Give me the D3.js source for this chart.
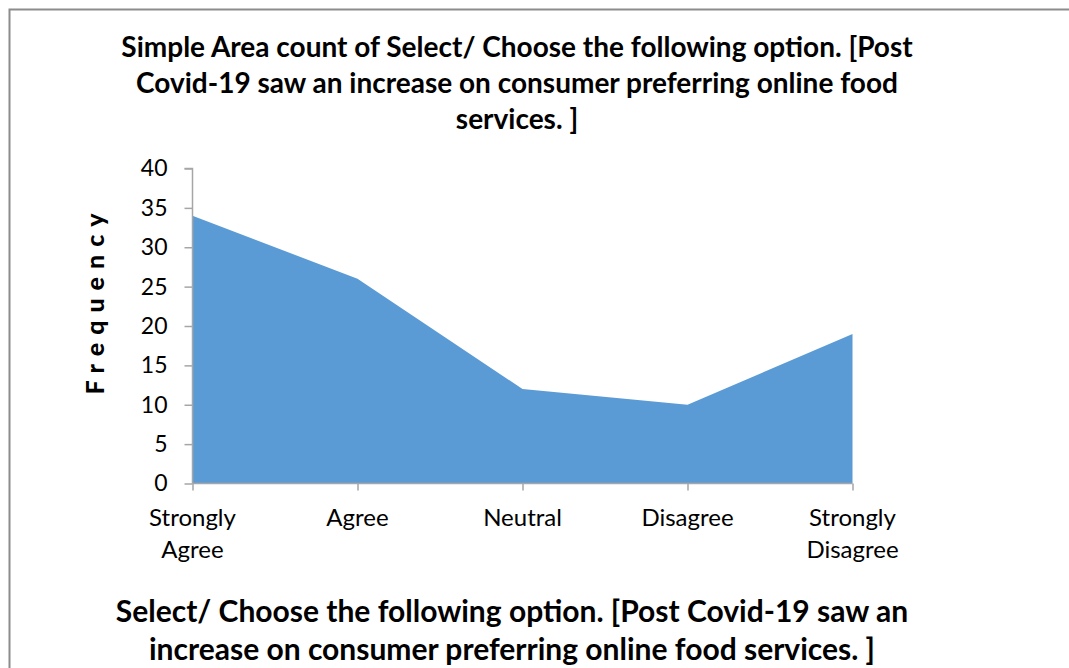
<!DOCTYPE html>
<html>
<head>
<meta charset="utf-8">
<script src="https://cdn.jsdelivr.net/npm/d3@7"></script>
<style>
  html, body { margin: 0; padding: 0; background: #fff; }
  svg { display: block; }
  text { font-family: Lato, "Open Sans", sans-serif; fill: #000; }
</style>
</head>
<body>
<svg id="chart" width="1069" height="668"></svg>
<script>
// Response categories and their counts
const categories = ["Strongly Agree", "Agree", "Neutral", "Disagree", "Strongly Disagree"];
const categoryLines = [["Strongly", "Agree"], ["Agree"], ["Neutral"], ["Disagree"], ["Strongly", "Disagree"]];
const counts = [34, 26, 12, 10, 19];
const yTicks = [0, 5, 10, 15, 20, 25, 30, 35, 40];

const titleLines = [
  "Simple Area count of Select/ Choose the following option. [Post",
  "Covid-19 saw an increase on consumer preferring online food",
  "services. ]"
];
const xTitleLines = [
  "Select/ Choose the following option. [Post Covid-19 saw an",
  "increase on consumer preferring online food services. ]"
];
const yTitle = "Frequency";

const svg = d3.select("#chart");

// Outer frame
svg.append("rect")
  .attr("x", 9.5).attr("y", 9.5)
  .attr("width", 1100).attr("height", 700)
  .attr("fill", "none").attr("stroke", "#8c8c8c").attr("stroke-width", 2);

const x = d3.scalePoint().domain(categories).range([192.5, 852.5]);
const y = d3.scaleLinear().domain([0, 40]).range([483.5, 168.5]);

// Area series
const area = d3.area()
  .x((d, i) => x(categories[i]))
  .y0(y(0))
  .y1(d => y(d));
svg.append("path")
  .datum(counts)
  .attr("d", area)
  .attr("fill", "#5b9bd5");

// Y axis
const yAxis = svg.append("g")
  .attr("transform", `translate(${192.5},0)`)
  .call(d3.axisLeft(y).tickValues(yTicks).tickSize(8).tickPadding(17));
yAxis.select(".domain").attr("stroke", "#a6a6a6").attr("stroke-width", 1.5)
  .attr("d", `M-8,${y(40)}H0V${y(0)}`);
yAxis.selectAll(".tick line").attr("stroke", "#a6a6a6").attr("stroke-width", 1.5);
yAxis.selectAll(".tick text")
  .style("font-family", "Lato, 'Open Sans', sans-serif")
  .style("font-size", "23px").attr("fill", "#000");

// X axis
const xAxis = svg.append("g")
  .attr("transform", `translate(0,${y(0)})`)
  .call(d3.axisBottom(x).tickSize(7).tickFormat(""));
xAxis.select(".domain").attr("stroke", "#a6a6a6").attr("stroke-width", 1.5)
  .attr("d", `M${x(categories[0])},0H${x(categories[4])}`);
xAxis.selectAll(".tick line").attr("stroke", "#a6a6a6").attr("stroke-width", 1.5);

categories.forEach((c, i) => {
  const t = svg.append("text")
    .attr("x", x(c)).attr("y", 526)
    .attr("text-anchor", "middle")
    .style("font-size", "24px");
  categoryLines[i].forEach((ln, j) => {
    t.append("tspan").attr("x", x(c)).attr("dy", j === 0 ? 0 : 32).text(ln);
  });
});

// Chart title
titleLines.forEach((ln, i) => {
  svg.append("text")
    .attr("x", 517).attr("y", 57 + i * 36)
    .attr("text-anchor", "middle")
    .style("font-size", "28px").style("font-weight", "bold")
    .text(ln);
});

// Category axis title
xTitleLines.forEach((ln, i) => {
  svg.append("text")
    .attr("x", 512).attr("y", 622 + i * 38)
    .attr("text-anchor", "middle")
    .style("font-size", "30px").style("font-weight", "bold")
    .text(ln);
});

// Value axis title
svg.append("text")
  .attr("transform", "translate(104,300) rotate(-90)")
  .attr("text-anchor", "middle")
  .style("font-size", "25px").style("font-weight", "900")
  .style("letter-spacing", "8px")
  .text(yTitle);
</script>
</body>
</html>
